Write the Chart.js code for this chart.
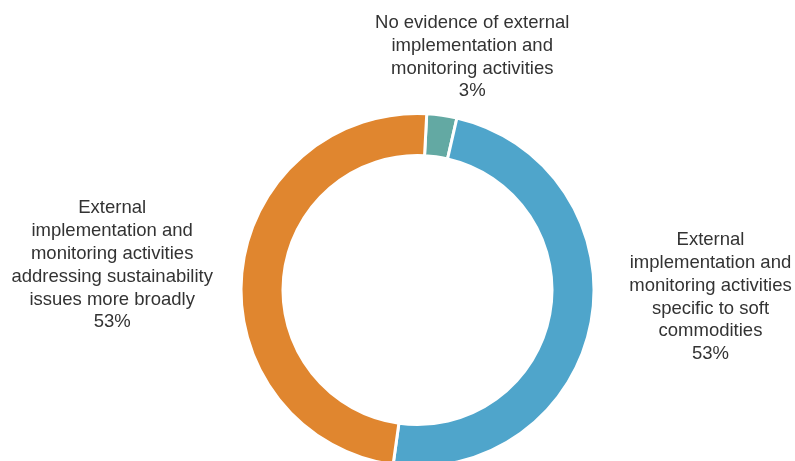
<!DOCTYPE html>
<html>
<head>
<meta charset="utf-8">
<script src="https://cdn.jsdelivr.net/npm/chart.js@4"></script>
<style>
  html, body { margin: 0; padding: 0; background: #fff; overflow: hidden; }
  #wrap { position: relative; width: 795px; height: 580px; }
</style>
</head>
<body>
<div id="wrap"><canvas id="myChart"></canvas></div>
<script>
'use strict';
// categories and shares (percent as printed on the labels)
let categories = [
  ['No evidence of external', 'implementation and', 'monitoring activities'],
  ['External', 'implementation and', 'monitoring activities', 'specific to soft', 'commodities'],
  ['External', 'implementation and', 'monitoring activities', 'addressing sustainability', 'issues more broadly']
];
let shares = [3, 53, 53];
let sliceColors = ['#63a9a3', '#4fa5cb', '#e0862f'];

// centre of each label block, relative to the ring centre (in units of the outer radius)
let labelAnchors = [
  { dx: 0.31, dy: -1.32 },
  { dx: 1.66, dy: 0.04 },
  { dx: -1.73, dy: -0.14 }
];

let ctx = document.getElementById('myChart').getContext('2d');

// draws the multi-line category text plus its percentage
let sliceLabels = {
  id: 'sliceLabels',
  afterDatasetsDraw(chart) {
    let meta = chart.getDatasetMeta(0);
    let c = chart.ctx;
    let arc = meta.data[0];
    let r = arc.outerRadius;
    c.save();
    c.font = '18.5px "Liberation Sans", Arial, sans-serif';
    c.fillStyle = '#333333';
    c.textAlign = 'center';
    c.textBaseline = 'middle';
    let lineH = 22.8;
    for (let i = 0; i < categories.length; i++) {
      let lines = categories[i].concat([shares[i] + '%']);
      let cx = arc.x + labelAnchors[i].dx * r;
      let cy = arc.y + labelAnchors[i].dy * r;
      let top = cy - (lines.length - 1) * lineH / 2;
      for (let j = 0; j < lines.length; j++) {
        c.fillText(lines[j], cx, top + j * lineH);
      }
    }
    c.restore();
  }
};

new Chart(ctx, {
  type: 'doughnut',
  data: {
    labels: categories.map(l => l.join(' ')),
    datasets: [{
      data: shares,
      backgroundColor: sliceColors,
      borderColor: '#ffffff',
      borderWidth: 3
    }]
  },
  options: {
    responsive: true,
    maintainAspectRatio: false,
    animation: false,
    rotation: 3,
    cutout: '76.2%',
    layout: { padding: { top: 112, bottom: 112, left: 40, right: 0 } },
    plugins: {
      legend: { display: false },
      tooltip: { enabled: false }
    }
  },
  plugins: [sliceLabels]
});
</script>
</body>
</html>
